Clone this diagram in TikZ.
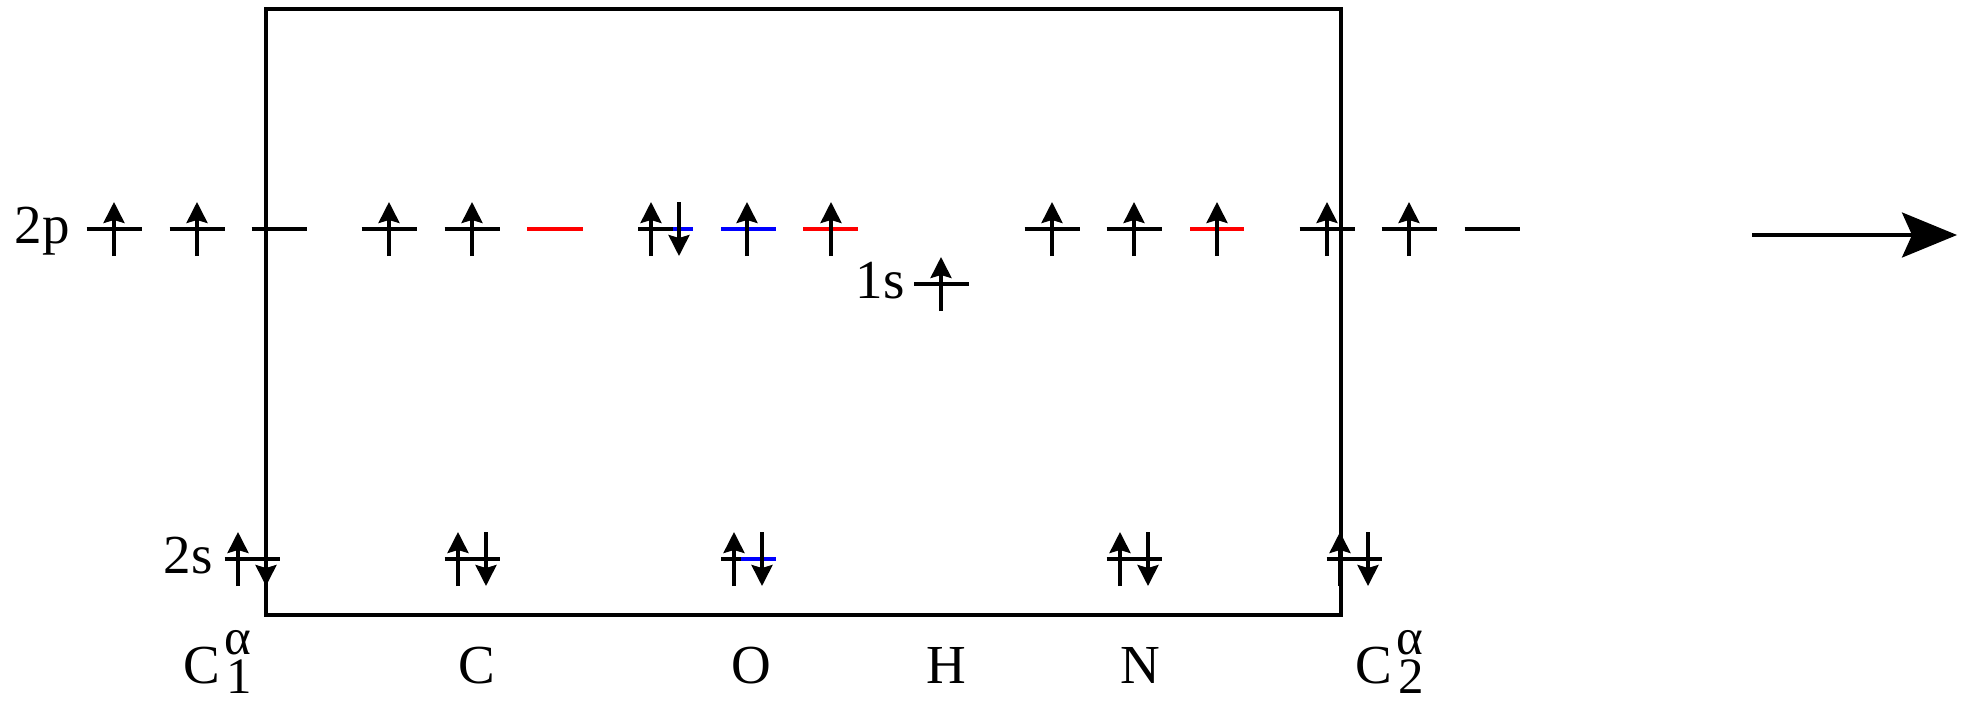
\documentclass[tikz,border=0pt]{standalone}
\usepackage{fontspec}
\setmainfont{Liberation Serif}
\usetikzlibrary{arrows.meta}
\begin{document}
\begin{tikzpicture}[x=0.5pt,y=-0.5pt,
  lvl/.style={line width=1.7pt},
  spin/.style={line width=1.7pt,-{Stealth[length=10.5pt,width=10.5pt,inset=1.5pt]}},
  frame/.style={line width=1.7pt},
  lab/.style={inner sep=0pt,font=\fontsize{27.5}{32}\selectfont},
  scr/.style={inner sep=0pt,font=\fontsize{25.5}{28}\selectfont}]
\useasboundingbox (0,0) rectangle (1974,701);
% frame
\draw[frame] (266,9) rectangle (1341,615);
% 2p level (y=229)
\foreach \c in {114,197,389,472,1052,1134,1327,1409}{
  \draw[lvl] (\c-27.5,229) -- (\c+27.5,229);
  \draw[spin] (\c,256) -- (\c,202);
}
\foreach \c in {279,1492}{\draw[lvl] (\c-27.5,229) -- (\c+27.5,229);}
\draw[lvl,red] (527,229) -- (583,229);
\draw[lvl,red] (803,229) -- (858,229);
\draw[spin] (831,256) -- (831,202);
\draw[lvl,red] (1190,229) -- (1244,229);
\draw[spin] (1217,256) -- (1217,202);
\draw[lvl,blue] (721,229) -- (776,229);
\draw[spin] (747,256) -- (747,202);
\draw[lvl] (638,229) -- (673,229);
\draw[lvl,blue] (673,229) -- (693,229);
\draw[spin] (651,256) -- (651,202);
\draw[spin] (679,202) -- (679,256);
% 1s (H)
\draw[lvl] (914,284) -- (969,284);
\draw[spin] (941,311) -- (941,257);
% 2s level (y=559)
\foreach \c in {252,472,1134,1354}{
  \draw[lvl] (\c-27.5,559) -- (\c+27.5,559);
  \draw[spin] (\c-14,586) -- (\c-14,532);
  \draw[spin] (\c+14,532) -- (\c+14,586);
}
\draw[lvl] (721,559) -- (741,559);
\draw[lvl,blue] (741,559) -- (776,559);
\draw[spin] (734,586) -- (734,532);
\draw[spin] (762,532) -- (762,586);
% level labels
\node[lab,anchor=base east] (l2p) at (70,243) {2p};
\node[lab,anchor=base east] (l2s) at (213,573) {2s};
\node[lab,anchor=base east] (l1s) at (905,298) {1s};
% atom labels
\node[lab,anchor=base west] (ca1) at (183,683) {C};
\node[scr,anchor=base west] (ca1a) at (224,654) {α};
\node[scr,anchor=base west] (ca1b) at (226,693) {1};
\node[lab,anchor=base] (c) at (477,683) {C};
\node[lab,anchor=base] (o) at (751,683) {O};
\node[lab,anchor=base] (h) at (946,683) {H};
\node[lab,anchor=base] (n) at (1140,683) {N};
\node[lab,anchor=base west] (ca2) at (1355,683) {C};
\node[scr,anchor=base west] (ca2a) at (1396,654) {α};
\node[scr,anchor=base west] (ca2b) at (1398,693) {2};
% direction arrow
\coordinate (as) at (1752,235);
\coordinate (ae) at (1957,235);
\draw[line width=1.7pt,-{Stealth[length=27.5pt,width=22.5pt,inset=5pt]}] (as) -- (ae);
\end{tikzpicture}
\end{document}
